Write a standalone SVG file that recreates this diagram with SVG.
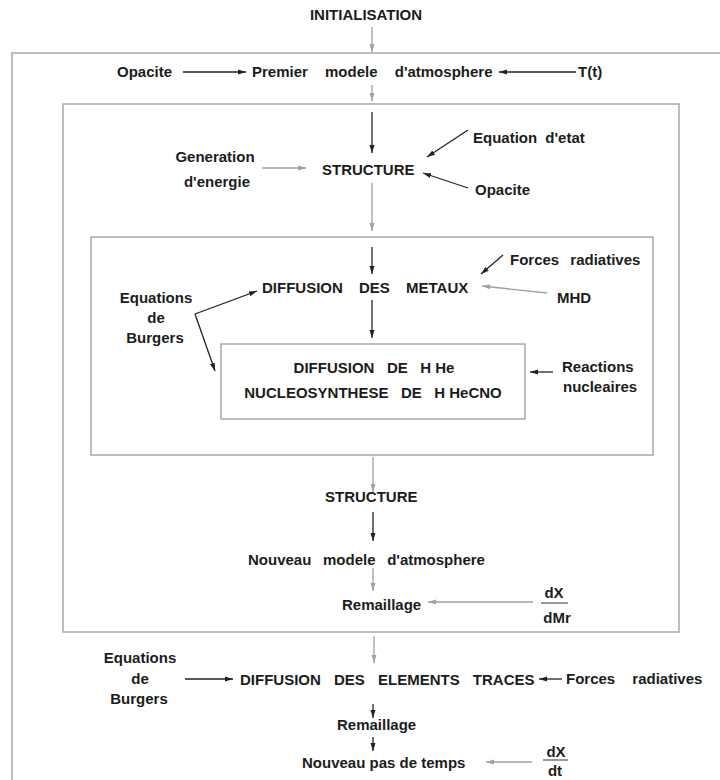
<svg xmlns="http://www.w3.org/2000/svg" width="720" height="780" viewBox="0 0 720 780">
<style>
text { font-family: "Liberation Sans", Arial, sans-serif; font-weight: bold; font-size: 15px; fill: #1c1c1c; }
.mid { text-anchor: middle; }
.box { fill: none; stroke: #a8a8a8; stroke-width: 1.5; }
.k { stroke: #222; stroke-width: 1.3; fill: none; marker-end: url(#ak); }
.g { stroke: #a0a0a0; stroke-width: 1.3; fill: none; marker-end: url(#ag); }
.frac { stroke: #333; stroke-width: 1; }
</style>
<defs>
<marker id="ak" markerUnits="userSpaceOnUse" markerWidth="9" markerHeight="6" refX="8" refY="3" orient="auto"><path d="M0,0.5 L8,3 L0,5.5 z" fill="#222"/></marker>
<marker id="ag" markerUnits="userSpaceOnUse" markerWidth="9" markerHeight="6" refX="8" refY="3" orient="auto"><path d="M0,0.5 L8,3 L0,5.5 z" fill="#a0a0a0"/></marker>
</defs>
<rect width="720" height="780" fill="#fff"/>

<g id="outer-box"><rect class="box" x="12" y="53" width="720" height="740"/></g>
<g id="middle-box"><rect class="box" x="63" y="104" width="616" height="528"/></g>
<g id="inner-box"><rect class="box" x="91" y="237" width="562" height="218"/></g>
<g id="core-box"><rect class="box" x="221" y="344" width="304" height="75"/></g>

<g id="initialisation"><text class="mid" x="366" y="20">INITIALISATION</text></g>
<g id="opacite-1"><text x="117" y="77">Opacite</text></g>
<g id="premier-modele"><text x="252" y="77" word-spacing="13">Premier modele d'atmosphere</text></g>
<g id="tt"><text x="578" y="77">T(t)</text></g>

<g id="generation"><text class="mid" x="215" y="162">Generation</text><text class="mid" x="217" y="187">d'energie</text></g>
<g id="structure-1"><text x="322" y="175">STRUCTURE</text></g>
<g id="equation-etat"><text x="473" y="143" word-spacing="4">Equation d'etat</text></g>
<g id="opacite-2"><text x="475" y="195">Opacite</text></g>

<g id="diffusion-metaux"><text x="262" y="293" word-spacing="12">DIFFUSION DES METAUX</text></g>
<g id="forces-rad-1"><text x="510" y="265" word-spacing="7">Forces radiatives</text></g>
<g id="mhd"><text x="557" y="303">MHD</text></g>
<g id="burgers-1"><text class="mid" x="156" y="303">Equations</text><text class="mid" x="156" y="323">de</text><text class="mid" x="155" y="343">Burgers</text></g>

<g id="diffusion-hhe"><text class="mid" x="374" y="373" xml:space="preserve">DIFFUSION   DE   H He</text></g>
<g id="nucleosynthese"><text class="mid" x="373" y="398" xml:space="preserve">NUCLEOSYNTHESE   DE   H HeCNO</text></g>
<g id="reactions"><text x="562" y="372">Reactions</text><text x="563" y="392">nucleaires</text></g>

<g id="structure-2"><text x="325" y="502">STRUCTURE</text></g>
<g id="nouveau-modele"><text x="248" y="565" word-spacing="7.5">Nouveau modele d'atmosphere</text></g>
<g id="remaillage-1"><text x="342" y="610">Remaillage</text></g>
<g id="dx-dmr"><text class="mid" x="554" y="598">dX</text><line class="frac" x1="541" y1="603" x2="568" y2="603"/><text class="mid" x="557" y="623">dMr</text></g>

<g id="burgers-2"><text class="mid" x="140" y="663">Equations</text><text class="mid" x="140" y="684">de</text><text class="mid" x="139" y="704">Burgers</text></g>
<g id="diffusion-traces"><text x="240" y="685" word-spacing="9">DIFFUSION DES ELEMENTS TRACES</text></g>
<g id="forces-rad-2"><text x="566" y="684" word-spacing="13">Forces radiatives</text></g>
<g id="remaillage-2"><text x="337" y="730">Remaillage</text></g>
<g id="nouveau-pas"><text x="302" y="768">Nouveau pas de temps</text></g>
<g id="dx-dt"><text class="mid" x="556" y="757">dX</text><line class="frac" x1="543" y1="760" x2="568" y2="760"/><text class="mid" x="555" y="776">dt</text></g>

<g id="connectors">
<line class="g" x1="372" y1="27" x2="372" y2="52"/>
<line class="k" x1="183" y1="72" x2="246" y2="72"/>
<line class="k" x1="576" y1="72" x2="499" y2="72"/>
<line class="g" x1="372" y1="85" x2="372" y2="101"/>
<line class="k" x1="372" y1="112" x2="372" y2="153"/>
<line class="g" x1="262" y1="168" x2="306" y2="168"/>
<line class="k" x1="468" y1="130" x2="427" y2="157"/>
<line class="k" x1="468" y1="188" x2="423" y2="173"/>
<line class="g" x1="372" y1="183" x2="372" y2="231"/>
<line class="k" x1="372" y1="247" x2="372" y2="274"/>
<line class="k" x1="503" y1="255" x2="481" y2="274"/>
<line class="g" x1="547" y1="293" x2="482" y2="286"/>
<polyline class="k" points="195,314 257,291"/>
<polyline class="k" points="195,314 215,371"/>
<line class="k" x1="372" y1="300" x2="372" y2="338"/>
<line class="k" x1="553" y1="372" x2="530" y2="372"/>
<line class="g" x1="373" y1="457" x2="373" y2="492"/>
<line class="k" x1="373" y1="512" x2="373" y2="541"/>
<line class="g" x1="373" y1="568" x2="373" y2="591"/>
<line class="g" x1="533" y1="602" x2="428" y2="602"/>
<line class="g" x1="374" y1="636" x2="374" y2="663"/>
<line class="k" x1="185" y1="679" x2="233" y2="679"/>
<line class="k" x1="562" y1="679" x2="539" y2="679"/>
<line class="k" x1="373" y1="704" x2="373" y2="718"/>
<line class="k" x1="373" y1="737" x2="373" y2="751"/>
<line class="g" x1="532" y1="762" x2="486" y2="762"/>
</g>
</svg>
